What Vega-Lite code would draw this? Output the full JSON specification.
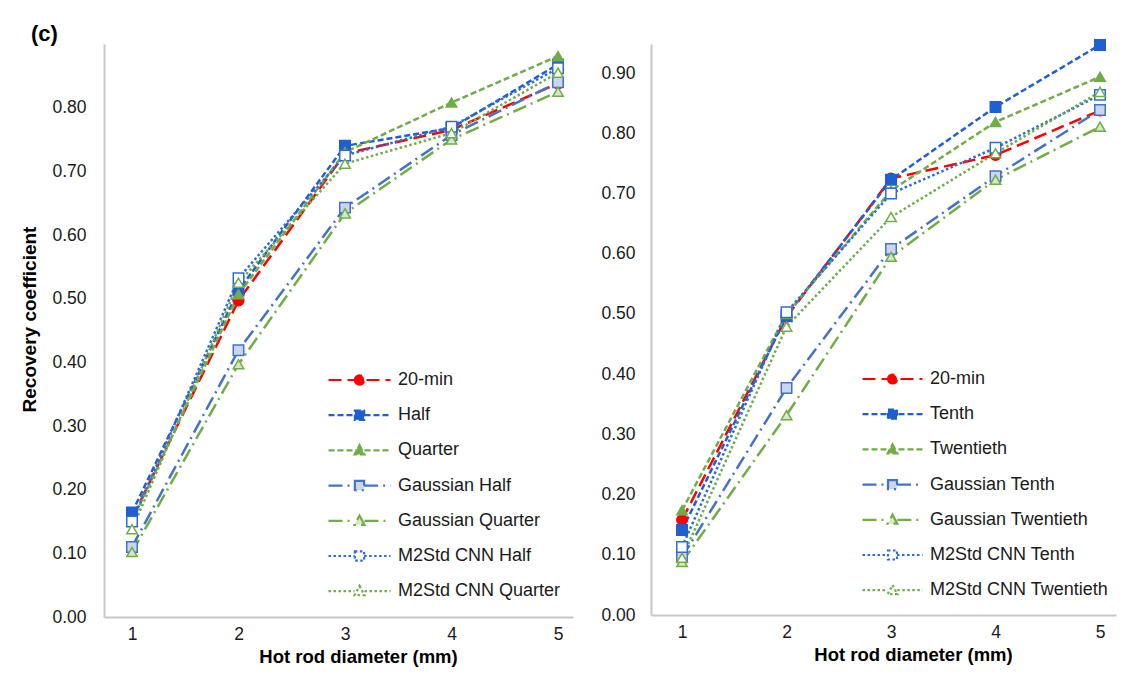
{
  "$schema": "https://vega.github.io/schema/vega-lite/v6.json",
  "background": "white",
  "padding": {"left": 20, "top": 22, "right": 5, "bottom": 5},
  "bounds": "flush",
  "spacing": 78,
  "title": {"text": "(c)", "anchor": "start", "fontSize": 22, "fontWeight": "bold", "font": "Liberation Sans", "offset": -9, "dx": 10, "color": "#000000"},
  "config": {
    "view": {"stroke": null},
    "font": "Liberation Sans",
    "axis": {"domainColor": "#c8c8c8", "domainWidth": 2, "ticks": false, "grid": false, "labelFont": "Liberation Sans", "labelFontSize": 17.5, "labelColor": "#1a1a1a", "titleFont": "Liberation Sans", "titleFontSize": 18.5, "titleFontWeight": "bold", "titleColor": "#000000"}
  },
  "resolve": {"scale": {"x": "independent", "y": "independent", "color": "independent", "strokeDash": "independent", "shape": "independent", "fill": "independent", "stroke": "independent"}, "legend": {"color": "independent", "strokeDash": "independent"}},
  "hconcat": [
    {
      "width": 469,
      "height": 573,
      "data": {"values": [
        {"d": 1, "series": "20-min", "mk": "20-min", "rc": 0.155}, {"d": 2, "series": "20-min", "mk": "20-min", "rc": 0.497}, {"d": 3, "series": "20-min", "mk": "20-min", "rc": 0.728}, {"d": 4, "series": "20-min", "mk": "20-min", "rc": 0.765}, {"d": 5, "series": "20-min", "mk": "20-min", "rc": 0.838},
        {"d": 1, "series": "Half", "mk": "Half", "rc": 0.164}, {"d": 2, "series": "Half", "mk": "Half", "rc": 0.513}, {"d": 3, "series": "Half", "mk": "Half", "rc": 0.740}, {"d": 4, "series": "Half", "mk": "Half", "rc": 0.768}, {"d": 5, "series": "Half", "mk": "Half", "rc": 0.868},
        {"d": 1, "series": "Quarter", "mk": "Quarter", "rc": 0.150}, {"d": 2, "series": "Quarter", "mk": "Quarter", "rc": 0.507}, {"d": 3, "series": "Quarter", "mk": "Quarter", "rc": 0.730}, {"d": 4, "series": "Quarter", "mk": "Quarter", "rc": 0.808}, {"d": 5, "series": "Quarter", "mk": "Quarter", "rc": 0.881},
        {"d": 1, "series": "Gaussian Half", "mk": "Gaussian Half", "rc": 0.110}, {"d": 2, "series": "Gaussian Half", "mk": "Gaussian Half", "rc": 0.419}, {"d": 3, "series": "Gaussian Half", "mk": "Gaussian Half", "rc": 0.643}, {"d": 4, "series": "Gaussian Half", "mk": "Gaussian Half", "rc": 0.757}, {"d": 5, "series": "Gaussian Half", "mk": "Gaussian Half", "rc": 0.840},
        {"d": 1, "series": "Gaussian Quarter", "mk": "Gaussian Quarter", "rc": 0.102}, {"d": 2, "series": "Gaussian Quarter", "mk": "Gaussian Quarter", "rc": 0.397}, {"d": 3, "series": "Gaussian Quarter", "mk": "Gaussian Quarter", "rc": 0.634}, {"d": 4, "series": "Gaussian Quarter", "mk": "Gaussian Quarter", "rc": 0.750}, {"d": 5, "series": "Gaussian Quarter", "mk": "Gaussian Quarter", "rc": 0.825},
        {"d": 1, "series": "M2Std CNN Half", "mk": "M2Std CNN Half", "rc": 0.150}, {"d": 2, "series": "M2Std CNN Half", "mk": "M2Std CNN Half", "rc": 0.532}, {"d": 3, "series": "M2Std CNN Half", "mk": "M2Std CNN Half", "rc": 0.725}, {"d": 4, "series": "M2Std CNN Half", "mk": "M2Std CNN Half", "rc": 0.770}, {"d": 5, "series": "M2Std CNN Half", "mk": "M2Std CNN Half", "rc": 0.862},
        {"d": 1, "series": "M2Std CNN Quarter", "mk": "M2Std CNN Quarter", "rc": 0.138}, {"d": 2, "series": "M2Std CNN Quarter", "mk": "M2Std CNN Quarter", "rc": 0.525}, {"d": 3, "series": "M2Std CNN Quarter", "mk": "M2Std CNN Quarter", "rc": 0.712}, {"d": 4, "series": "M2Std CNN Quarter", "mk": "M2Std CNN Quarter", "rc": 0.760}, {"d": 5, "series": "M2Std CNN Quarter", "mk": "M2Std CNN Quarter", "rc": 0.855}
      ]},
      "layer": [
        {
          "mark": {"type": "line", "strokeWidth": 2.5},
          "encoding": {
            "x": {"field": "d", "type": "quantitative", "scale": {"domain": [0.737, 5.141], "nice": false, "zero": false}, "axis": {"values": [1, 2, 3, 4, 5], "format": "d", "labelPadding": 8, "titlePadding": 5, "title": "Hot rod diameter (mm)", "titleX": 254}},
            "y": {"field": "rc", "type": "quantitative", "scale": {"domain": [0, 0.9], "nice": false}, "axis": {"values": [0, 0.1, 0.2, 0.3, 0.4, 0.5, 0.6, 0.7, 0.8], "format": ".2f", "labelPadding": 18, "title": "Recovery coefficient", "titlePadding": 12, "titleY": 275, "titleFontSize": 19}},
            "color": {"field": "series", "type": "nominal",
              "scale": {"domain": ["20-min", "Half", "Quarter", "Gaussian Half", "Gaussian Quarter", "M2Std CNN Half", "M2Std CNN Quarter"], "range": ["#ff0000", "#1f5fcf", "#70ad47", "#4472c4", "#70ad47", "#2e6bd9", "#70ad47"]},
              "legend": {"orient": "none", "legendX": 223, "legendY": 326, "title": null, "padding": 0, "rowPadding": 15.2, "clipHeight": 20, "symbolSize": 3844, "symbolStrokeWidth": 2.2, "labelFontSize": 18, "labelOffset": 6, "labelLimit": 0, "labelFont": "Liberation Sans", "labelColor": "#1a1a1a",
                "encode": {"symbols": {"update": {
                  "shape": {"signal": "datum.value == '20-min' ? 'M-1,0H1M-0.15,0A0.15,0.15,0,1,0,0.15,0A0.15,0.15,0,1,0,-0.15,0Z' : (indexof(datum.value,'Half') >= 0 || indexof(datum.value,'Tenth') >= 0) ? (indexof(datum.value,' ') >= 0 ? 'M-1,0H-0.15M0.15,0H1M-0.15,-0.15H0.15V0.15H-0.15Z' : 'M-1,0H1M-0.15,-0.15H0.15V0.15H-0.15Z') : (indexof(datum.value,' ') >= 0 ? 'M-1,0H-0.16M0.16,0H1M0,-0.17L0.16,0.13H-0.16Z' : 'M-1,0H1M0,-0.17L0.16,0.13H-0.16Z')"},
                  "fill": {"signal": "datum.value == '20-min' ? '#ff0000' : (datum.value == 'Half' || datum.value == 'Tenth') ? '#1f5fcf' : (datum.value == 'Quarter' || datum.value == 'Twentieth') ? '#70ad47' : indexof(datum.value,'Gaussian') >= 0 ? ((indexof(datum.value,'Half') >= 0 || indexof(datum.value,'Tenth') >= 0) ? '#c9d6ef' : '#d5e8c9') : '#ffffff'"},
                  "fillOpacity": {"value": 1}
                }}}}},
            "strokeDash": {"field": "series", "type": "nominal",
              "scale": {"domain": ["20-min", "Half", "Quarter", "Gaussian Half", "Gaussian Quarter", "M2Std CNN Half", "M2Std CNN Quarter"], "range": [[13, 6], [6, 3], [6, 3], [14, 5, 2, 5], [14, 5, 2, 5], [2.5, 2.5], [2.5, 2.5]]},
              "legend": {"orient": "none", "legendX": 223, "legendY": 326, "title": null}}
          }
        },
        {
          "mark": {"type": "point", "filled": true, "strokeWidth": 1.5, "size": 110, "opacity": 1},
          "encoding": {
            "x": {"field": "d", "type": "quantitative"},
            "y": {"field": "rc", "type": "quantitative"},
            "shape": {"field": "mk", "type": "nominal", "scale": {"domain": ["M2Std CNN Quarter", "M2Std CNN Half", "Gaussian Quarter", "Gaussian Half", "Quarter", "Half", "20-min"], "range": ["triangle-up", "square", "triangle-up", "square", "triangle-up", "square", "circle"]}, "legend": null},
            "fill": {"field": "mk", "type": "nominal", "scale": {"domain": ["M2Std CNN Quarter", "M2Std CNN Half", "Gaussian Quarter", "Gaussian Half", "Quarter", "Half", "20-min"], "range": ["#ffffff", "#ffffff", "#d5e8c9", "#c9d6ef", "#70ad47", "#1f5fcf", "#ff0000"]}, "legend": null},
            "stroke": {"field": "mk", "type": "nominal", "scale": {"domain": ["M2Std CNN Quarter", "M2Std CNN Half", "Gaussian Quarter", "Gaussian Half", "Quarter", "Half", "20-min"], "range": ["#70ad47", "#2e6bd9", "#70ad47", "#4472c4", "#70ad47", "#1f5fcf", "#ff0000"]}, "legend": null}
          }
        }
      ]
    },
    {
      "width": 465,
      "height": 571,
      "data": {"values": [
        {"d": 1, "series": "20-min", "mk": "20-min", "rc": 0.158}, {"d": 2, "series": "20-min", "mk": "20-min", "rc": 0.495}, {"d": 3, "series": "20-min", "mk": "20-min", "rc": 0.725}, {"d": 4, "series": "20-min", "mk": "20-min", "rc": 0.764}, {"d": 5, "series": "20-min", "mk": "20-min", "rc": 0.838},
        {"d": 1, "series": "Tenth", "mk": "Tenth", "rc": 0.141}, {"d": 2, "series": "Tenth", "mk": "Tenth", "rc": 0.497}, {"d": 3, "series": "Tenth", "mk": "Tenth", "rc": 0.723}, {"d": 4, "series": "Tenth", "mk": "Tenth", "rc": 0.844}, {"d": 5, "series": "Tenth", "mk": "Tenth", "rc": 0.947},
        {"d": 1, "series": "Twentieth", "mk": "Twentieth", "rc": 0.174}, {"d": 2, "series": "Twentieth", "mk": "Twentieth", "rc": 0.500}, {"d": 3, "series": "Twentieth", "mk": "Twentieth", "rc": 0.705}, {"d": 4, "series": "Twentieth", "mk": "Twentieth", "rc": 0.819}, {"d": 5, "series": "Twentieth", "mk": "Twentieth", "rc": 0.894},
        {"d": 1, "series": "Gaussian Tenth", "mk": "Gaussian Tenth", "rc": 0.096}, {"d": 2, "series": "Gaussian Tenth", "mk": "Gaussian Tenth", "rc": 0.377}, {"d": 3, "series": "Gaussian Tenth", "mk": "Gaussian Tenth", "rc": 0.608}, {"d": 4, "series": "Gaussian Tenth", "mk": "Gaussian Tenth", "rc": 0.729}, {"d": 5, "series": "Gaussian Tenth", "mk": "Gaussian Tenth", "rc": 0.839},
        {"d": 1, "series": "Gaussian Twentieth", "mk": "Gaussian Twentieth", "rc": 0.088}, {"d": 2, "series": "Gaussian Twentieth", "mk": "Gaussian Twentieth", "rc": 0.332}, {"d": 3, "series": "Gaussian Twentieth", "mk": "Gaussian Twentieth", "rc": 0.595}, {"d": 4, "series": "Gaussian Twentieth", "mk": "Gaussian Twentieth", "rc": 0.723}, {"d": 5, "series": "Gaussian Twentieth", "mk": "Gaussian Twentieth", "rc": 0.811},
        {"d": 1, "series": "M2Std CNN Tenth", "mk": "M2Std CNN Tenth", "rc": 0.113}, {"d": 2, "series": "M2Std CNN Tenth", "mk": "M2Std CNN Tenth", "rc": 0.503}, {"d": 3, "series": "M2Std CNN Tenth", "mk": "M2Std CNN Tenth", "rc": 0.700}, {"d": 4, "series": "M2Std CNN Tenth", "mk": "M2Std CNN Tenth", "rc": 0.776}, {"d": 5, "series": "M2Std CNN Tenth", "mk": "M2Std CNN Tenth", "rc": 0.864},
        {"d": 1, "series": "M2Std CNN Twentieth", "mk": "M2Std CNN Twentieth", "rc": 0.095}, {"d": 2, "series": "M2Std CNN Twentieth", "mk": "M2Std CNN Twentieth", "rc": 0.479}, {"d": 3, "series": "M2Std CNN Twentieth", "mk": "M2Std CNN Twentieth", "rc": 0.661}, {"d": 4, "series": "M2Std CNN Twentieth", "mk": "M2Std CNN Twentieth", "rc": 0.767}, {"d": 5, "series": "M2Std CNN Twentieth", "mk": "M2Std CNN Twentieth", "rc": 0.869}
      ]},
      "layer": [
        {
          "mark": {"type": "line", "strokeWidth": 2.5},
          "encoding": {
            "x": {"field": "d", "type": "quantitative", "scale": {"domain": [0.703, 5.153], "nice": false, "zero": false}, "axis": {"values": [1, 2, 3, 4, 5], "format": "d", "labelPadding": 8, "titlePadding": 5, "title": "Hot rod diameter (mm)", "titleX": 262}},
            "y": {"field": "rc", "type": "quantitative", "scale": {"domain": [0, 0.9485], "nice": false}, "axis": {"values": [0, 0.1, 0.2, 0.3, 0.4, 0.5, 0.6, 0.7, 0.8, 0.9], "format": ".2f", "labelPadding": 16, "title": null}},
            "color": {"field": "series", "type": "nominal",
              "scale": {"domain": ["20-min", "Tenth", "Twentieth", "Gaussian Tenth", "Gaussian Twentieth", "M2Std CNN Tenth", "M2Std CNN Twentieth"], "range": ["#ff0000", "#1f5fcf", "#70ad47", "#4472c4", "#70ad47", "#2e6bd9", "#70ad47"]},
              "legend": {"orient": "none", "legendX": 210, "legendY": 325, "title": null, "padding": 0, "rowPadding": 15.2, "clipHeight": 20, "symbolSize": 3600, "symbolStrokeWidth": 2.2, "labelFontSize": 18, "labelOffset": 6, "labelLimit": 0, "labelFont": "Liberation Sans", "labelColor": "#1a1a1a",
                "encode": {"symbols": {"update": {
                  "shape": {"signal": "datum.value == '20-min' ? 'M-1,0H1M-0.15,0A0.15,0.15,0,1,0,0.15,0A0.15,0.15,0,1,0,-0.15,0Z' : (indexof(datum.value,'Half') >= 0 || indexof(datum.value,'Tenth') >= 0) ? (indexof(datum.value,' ') >= 0 ? 'M-1,0H-0.15M0.15,0H1M-0.15,-0.15H0.15V0.15H-0.15Z' : 'M-1,0H1M-0.15,-0.15H0.15V0.15H-0.15Z') : (indexof(datum.value,' ') >= 0 ? 'M-1,0H-0.16M0.16,0H1M0,-0.17L0.16,0.13H-0.16Z' : 'M-1,0H1M0,-0.17L0.16,0.13H-0.16Z')"},
                  "fill": {"signal": "datum.value == '20-min' ? '#ff0000' : (datum.value == 'Half' || datum.value == 'Tenth') ? '#1f5fcf' : (datum.value == 'Quarter' || datum.value == 'Twentieth') ? '#70ad47' : indexof(datum.value,'Gaussian') >= 0 ? ((indexof(datum.value,'Half') >= 0 || indexof(datum.value,'Tenth') >= 0) ? '#c9d6ef' : '#d5e8c9') : '#ffffff'"},
                  "fillOpacity": {"value": 1}
                }}}}},
            "strokeDash": {"field": "series", "type": "nominal",
              "scale": {"domain": ["20-min", "Tenth", "Twentieth", "Gaussian Tenth", "Gaussian Twentieth", "M2Std CNN Tenth", "M2Std CNN Twentieth"], "range": [[13, 6], [6, 3], [6, 3], [14, 5, 2, 5], [14, 5, 2, 5], [2.5, 2.5], [2.5, 2.5]]},
              "legend": {"orient": "none", "legendX": 210, "legendY": 325, "title": null}}
          }
        },
        {
          "mark": {"type": "point", "filled": true, "strokeWidth": 1.5, "size": 110, "opacity": 1},
          "encoding": {
            "x": {"field": "d", "type": "quantitative"},
            "y": {"field": "rc", "type": "quantitative"},
            "shape": {"field": "mk", "type": "nominal", "scale": {"domain": ["M2Std CNN Twentieth", "M2Std CNN Tenth", "Gaussian Twentieth", "Gaussian Tenth", "Twentieth", "Tenth", "20-min"], "range": ["triangle-up", "square", "triangle-up", "square", "triangle-up", "square", "circle"]}, "legend": null},
            "fill": {"field": "mk", "type": "nominal", "scale": {"domain": ["M2Std CNN Twentieth", "M2Std CNN Tenth", "Gaussian Twentieth", "Gaussian Tenth", "Twentieth", "Tenth", "20-min"], "range": ["#ffffff", "#ffffff", "#d5e8c9", "#c9d6ef", "#70ad47", "#1f5fcf", "#ff0000"]}, "legend": null},
            "stroke": {"field": "mk", "type": "nominal", "scale": {"domain": ["M2Std CNN Twentieth", "M2Std CNN Tenth", "Gaussian Twentieth", "Gaussian Tenth", "Twentieth", "Tenth", "20-min"], "range": ["#70ad47", "#2e6bd9", "#70ad47", "#4472c4", "#70ad47", "#1f5fcf", "#ff0000"]}, "legend": null}
          }
        }
      ]
    }
  ]
}
